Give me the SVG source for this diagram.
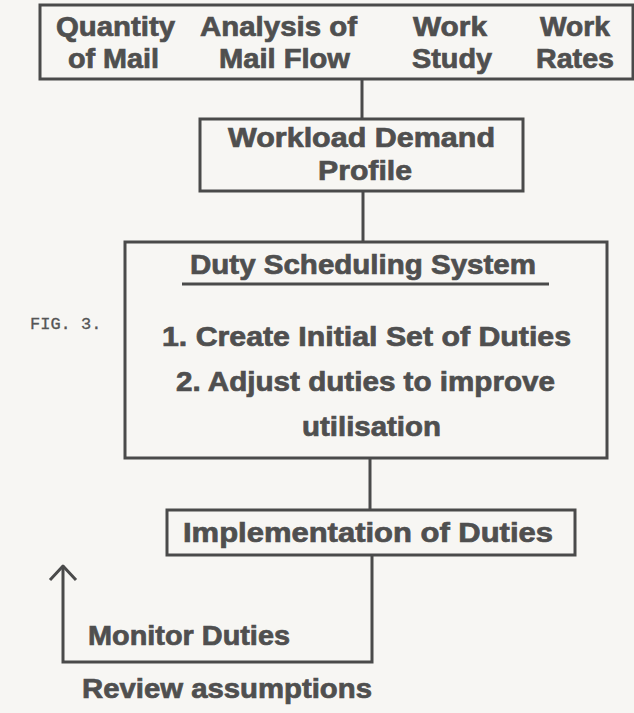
<svg xmlns="http://www.w3.org/2000/svg" width="634" height="713" viewBox="0 0 634 713">
  <style>
    .box { fill: none; stroke: #4a4a4a; stroke-width: 3; }
    .wire { fill: none; stroke: #4a4a4a; stroke-width: 3; }
    .lbl { font-family: "Liberation Sans", Arial, sans-serif; font-weight: bold; fill: #4f4f4f; stroke: #4f4f4f; stroke-width: 0.7; }
    .big { font-size: 27px; }
    .fig { font-family: "Liberation Mono", "Courier New", monospace; font-size: 17px; fill: #555; stroke: #555; stroke-width: 0.3; }
  </style>
  <rect width="634" height="713" fill="#f7f6f3"/>

  <!-- inputs -->
  <g id="inputs">
    <rect class="box" x="40" y="5" width="593" height="74"/>
    <text class="lbl big" x="56" y="36" textLength="119" lengthAdjust="spacingAndGlyphs">Quantity</text>
    <text class="lbl big" x="68" y="68" textLength="91" lengthAdjust="spacingAndGlyphs">of Mail</text>
    <text class="lbl big" x="200" y="36" textLength="157" lengthAdjust="spacingAndGlyphs">Analysis of</text>
    <text class="lbl big" x="219" y="68" textLength="131" lengthAdjust="spacingAndGlyphs">Mail Flow</text>
    <text class="lbl big" x="413" y="36" textLength="74" lengthAdjust="spacingAndGlyphs">Work</text>
    <text class="lbl big" x="412" y="68" textLength="80" lengthAdjust="spacingAndGlyphs">Study</text>
    <text class="lbl big" x="540" y="36" textLength="70" lengthAdjust="spacingAndGlyphs">Work</text>
    <text class="lbl big" x="536" y="68" textLength="78" lengthAdjust="spacingAndGlyphs">Rates</text>
  </g>

  <!-- workload demand profile -->
  <g id="workload">
    <rect class="box" x="200" y="119" width="323" height="72"/>
    <text class="lbl big" x="228" y="147" textLength="267" lengthAdjust="spacingAndGlyphs">Workload Demand</text>
    <text class="lbl big" x="318" y="180" textLength="94" lengthAdjust="spacingAndGlyphs">Profile</text>
  </g>

  <!-- duty scheduling system -->
  <g id="scheduling">
    <rect class="box" x="125" y="242" width="482" height="216"/>
    <text class="lbl big" x="190" y="274" textLength="346" lengthAdjust="spacingAndGlyphs">Duty Scheduling System</text>
    <line class="wire" x1="182" y1="284" x2="549" y2="284"/>
    <text class="lbl big" x="162" y="346" textLength="409" lengthAdjust="spacingAndGlyphs">1. Create Initial Set of Duties</text>
    <text class="lbl big" x="176" y="391" textLength="379" lengthAdjust="spacingAndGlyphs">2. Adjust duties to improve</text>
    <text class="lbl big" x="302" y="436" textLength="139" lengthAdjust="spacingAndGlyphs">utilisation</text>
  </g>

  <!-- implementation -->
  <g id="implementation">
    <rect class="box" x="167" y="510" width="408" height="45"/>
    <text class="lbl big" x="183" y="542" textLength="370" lengthAdjust="spacingAndGlyphs">Implementation  of Duties</text>
  </g>

  <!-- feedback labels -->
  <g id="monitor">
    <text class="lbl big" x="88" y="645" textLength="202" lengthAdjust="spacingAndGlyphs">Monitor Duties</text>
  </g>
  <g id="review">
    <text class="lbl big" x="82" y="698" textLength="290" lengthAdjust="spacingAndGlyphs">Review assumptions</text>
  </g>

  <g id="caption">
    <text class="fig" x="30" y="329">FIG. 3.</text>
  </g>

  <!-- connectors -->
  <g id="connectors">
    <line class="wire" x1="362" y1="79" x2="362" y2="119"/>
    <line class="wire" x1="363" y1="191" x2="363" y2="242"/>
    <line class="wire" x1="370" y1="458" x2="370" y2="510"/>
    <polyline class="wire" points="372,555 372,662 63,662 63,567"/>
    <polyline class="wire" points="50,580 63,566 76,580" stroke-linejoin="round"/>
  </g>
</svg>
